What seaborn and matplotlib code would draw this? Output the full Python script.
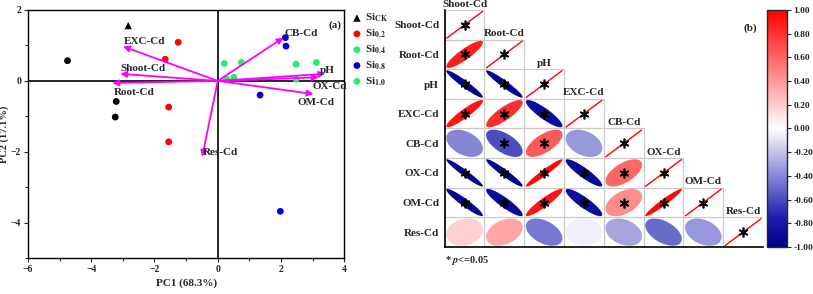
import numpy as np
import pandas as pd
import matplotlib
matplotlib.use("Agg")
import matplotlib.pyplot as plt
import seaborn as sns
from matplotlib.patches import Ellipse, Rectangle
from matplotlib.colors import LinearSegmentedColormap, Normalize
from matplotlib.cm import ScalarMappable

# PCA scores
ck_pc1 = [-2.83]
ck_pc2 = [1.56]
ck_dot_pc1 = [-4.75, -3.21, -3.24]
ck_dot_pc2 = [0.57, -0.58, -1.02]
si02_pc1 = [-1.25, -1.66, -1.55, -1.55]
si02_pc2 = [1.09, 0.61, -0.74, -1.72]
si04_pc1 = [0.21, 0.75, 2.48, 3.12]
si04_pc2 = [0.49, 0.52, 0.47, 0.52]
si08_pc1 = [2.14, 2.16, 1.34, 1.98]
si08_pc2 = [1.22, 0.98, -0.40, -3.68]
si10_pc1 = [0.28, 0.51, 2.48]
si10_pc2 = [0.05, 0.10, 0.05]

# loading vectors
load_names = ["EXC-Cd", "Shoot-Cd", "Root-Cd", "CB-Cd", "pH", "OX-Cd", "OM-Cd", "Res-Cd"]
load_pc1 = [-2.99, -3.08, -3.33, 2.08, 3.40, 3.19, 3.03, -0.49]
load_pc2 = [0.97, 0.20, -0.06, 1.22, 0.20, 0.10, -0.37, -2.14]
label_pc1 = [-2.97, -3.07, -3.28, 2.10, 3.24, 3.00, 2.53, -0.46]
label_pc2 = [1.11, 0.34, -0.33, 1.34, 0.30, -0.17, -0.60, -2.01]

# correlation matrix (lower triangle) for panel (b)
variables = ["Shoot-Cd", "Root-Cd", "pH", "EXC-Cd", "CB-Cd", "OX-Cd", "OM-Cd", "Res-Cd"]
corr_rows = [
    [1.00],
    [0.88, 1.00],
    [-0.95, -0.95, 1.00],
    [0.92, 0.82, -0.88, 1.00],
    [-0.40, -0.60, 0.65, -0.35, 1.00],
    [-0.96, -0.95, 0.96, -0.90, 0.60, 1.00],
    [-0.94, -0.90, 0.92, -0.88, 0.45, 0.96, 1.00],
    [0.18, 0.35, -0.45, -0.05, -0.30, -0.50, -0.35, 1.00],
]
signif_rows = [
    [1],
    [1, 1],
    [1, 1, 1],
    [1, 1, 1, 1],
    [0, 1, 1, 0, 1],
    [1, 1, 1, 1, 1, 1],
    [1, 1, 1, 1, 1, 1, 1],
    [0, 0, 0, 0, 0, 0, 0, 1],
]
cbar_ticks = [-1.0, -0.8, -0.6, -0.4, -0.2, 0.0, 0.2, 0.4, 0.6, 0.8, 1.0]

sns.set_theme(style="ticks")
plt.rcParams["font.family"] = ["Liberation Serif", "DejaVu Serif"]
plt.rcParams["font.weight"] = "bold"
plt.rcParams["mathtext.fontset"] = "stix"
plt.rcParams["axes.labelweight"] = "bold"

fig = plt.figure(figsize=(8.13, 2.94), dpi=100)

# ---------- panel (a) ----------
ax = fig.add_axes([0.0344, 0.122, 0.389, 0.844])
ax.axhline(0, color="black", lw=1.2, zorder=1)
ax.axvline(0, color="black", lw=1.2, zorder=1)

sns.scatterplot(x=ck_pc1, y=ck_pc2, marker="^", color="black", s=28, ax=ax,
                label=r"Si$_{\mathbf{CK}}$", edgecolor="none", zorder=3)
sns.scatterplot(x=si02_pc1, y=si02_pc2, color="#ff0000", s=24, ax=ax,
                label=r"Si$_{\mathbf{0.2}}$", edgecolor="none", zorder=3)
sns.scatterplot(x=si04_pc1, y=si04_pc2, color="#22ee77", s=24, ax=ax,
                label=r"Si$_{\mathbf{0.4}}$", edgecolor="none", zorder=3)
sns.scatterplot(x=si08_pc1, y=si08_pc2, color="#0000dd", s=24, ax=ax,
                label=r"Si$_{\mathbf{0.8}}$", edgecolor="none", zorder=3)
sns.scatterplot(x=si10_pc1, y=si10_pc2, color="#22ee66", s=24, ax=ax,
                label=r"Si$_{\mathbf{1.0}}$", edgecolor="none", zorder=3)
sns.scatterplot(x=ck_dot_pc1, y=ck_dot_pc2, color="black", s=24, ax=ax,
                edgecolor="none", zorder=3, legend=False)

for name, x1, y1, lx, ly in zip(load_names, load_pc1, load_pc2, label_pc1, label_pc2):
    ax.annotate("", xy=(x1, y1), xytext=(0, 0),
                arrowprops=dict(arrowstyle="-|>", color="#ff00ff", lw=1.3,
                                mutation_scale=9, shrinkA=0, shrinkB=0), zorder=4)
    ax.text(lx, ly, name, fontsize=8, fontweight="bold", ha="left", va="center", zorder=5)

ax.text(3.5, 1.56, "(a)", fontsize=8, fontweight="bold", ha="left", va="center")
ax.set_xlim(-6, 4)
ax.set_ylim(-5, 2)
ax.set_xticks([-6, -4, -2, 0, 2, 4])
ax.set_yticks([-4, -2, 0, 2])
ax.set_xticks([-5, -3, -1, 1, 3], minor=True)
ax.set_yticks([-5, -3, -1, 1], minor=True)
ax.tick_params(labelsize=7, length=3, width=0.8, direction="out", pad=2)
ax.tick_params(which="minor", length=2, width=0.8)
ax.set_xlabel("PC1 (68.3%)", fontsize=8, labelpad=3)
ax.set_ylabel("PC2 (17.1%)", fontsize=7.5, labelpad=1)
for s in ax.spines.values():
    s.set_visible(True)
    s.set_color("black")
    s.set_linewidth(1.0)
leg = ax.legend(loc="upper left", bbox_to_anchor=(1.005, 1.01), frameon=False,
                fontsize=8, handletextpad=0.1, labelspacing=0.3,
                borderaxespad=0.0, markerscale=1.0, handlelength=1.2)

# ---------- panel (b) ----------
cmap = LinearSegmentedColormap.from_list(
    "bwr_corr", [(0.0, "#00008b"), (0.12, "#1c1cb0"), (0.5, "#ffffff"), (1.0, "#ff0000")])
norm = Normalize(-1, 1)

n = len(variables)
bx = fig.add_axes([0.547, 0.160, 0.3915, 0.806])
bx.set_xlim(0, n)
bx.set_ylim(n, 0)

for i, row in enumerate(corr_rows):
    for j, r in enumerate(row):
        bx.add_patch(Rectangle((j, i), 1, 1, fill=False, edgecolor="#c8c8c8", lw=0.8))
        cx, cy = j + 0.5, i + 0.5
        if i == j:
            bx.plot([j + 0.05, j + 0.95], [i + 0.95, i + 0.05], color="red", lw=1.0)
        else:
            k = 0.92
            w = k * np.sqrt(1 + abs(r))
            h = k * np.sqrt(max(1 - abs(r), 0.0))
            ang = 45 if r < 0 else -45
            bx.add_patch(Ellipse((cx, cy), w, h, angle=ang, facecolor=cmap(norm(r)),
                                 edgecolor="none"))
        if signif_rows[i][j]:
            bx.plot(cx, cy, marker=(6, 2, 0), ms=7, mew=1.2, color="black", zorder=5)
    bx.text(i + 0.5, i - 0.05, variables[i], fontsize=8, fontweight="bold",
            ha="center", va="bottom")

bx.set_yticks(np.arange(n) + 0.5)
bx.set_yticklabels(variables, fontsize=8, fontweight="bold")
bx.set_xticks([])
bx.tick_params(axis="y", length=0, pad=4)
for side in ["top", "right"]:
    bx.spines[side].set_visible(False)
bx.spines["left"].set_linewidth(1.2)
bx.spines["bottom"].set_linewidth(1.2)
bx.spines["left"].set_color("black")
bx.spines["bottom"].set_color("black")
bx.text(7.85, 0.6, "(b)", fontsize=8, fontweight="bold", ha="right", va="center")
bx.text(0.0, 8.45, r"* $\mathbfit{p}$<=0.05", fontsize=7.5, fontweight="bold",
        ha="left", va="center")

cax = fig.add_axes([0.9435, 0.160, 0.0245, 0.806])
cb = fig.colorbar(ScalarMappable(norm=norm, cmap=cmap), cax=cax, ticks=cbar_ticks)
cb.ax.set_yticklabels([f"{t:.2f}" for t in cbar_ticks], fontsize=6.8, fontweight="bold")
cb.ax.tick_params(length=3, width=0.8, pad=1.5)
cb.outline.set_linewidth(1.0)

fig.savefig("out.png", dpi=100)
